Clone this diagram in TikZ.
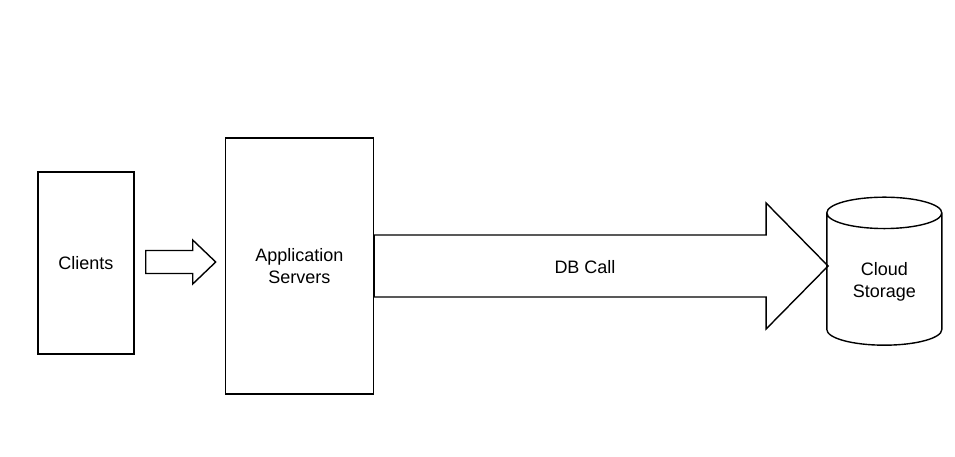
\documentclass[tikz,border=0pt]{standalone}
\usepackage{fontspec}
\setmainfont{Liberation Sans}
\usetikzlibrary{positioning,shapes.geometric}

\tikzset{
  box/.style={draw, line width=1.4pt, align=center, font=\fontsize{18}{22}\selectfont},
  blockarrow/.style={draw, line width=1.4pt, line join=miter},
  store/.style={draw, line width=1.4pt, cylinder, shape border rotate=90, aspect=0.45,
    align=center, font=\fontsize{18}{22}\selectfont},
  lbl/.style={font=\fontsize{18}{22}\selectfont}
}

\begin{document}
\begin{tikzpicture}[x=1pt, y=-1pt]
  \useasboundingbox (0,0) rectangle (955,456);

  \node[box, minimum width=96, minimum height=182] (clients) at (86,263) {Clients};
  \node[box, minimum width=148, minimum height=256, right=90pt of clients, yshift=-3pt] (servers) {Application\\Servers};
  \node[store, minimum width=115, minimum height=148, right=452pt of servers, yshift=-16pt] (storage) {Cloud\\Storage};

  % clients to servers
  \draw[blockarrow] (clients.east) ++(11,-12.5) -- ++(47,0) -- ++(0,-10.5) -- ++(23,22)
    -- ++(-23,22) -- ++(0,-10.5) -- ++(-47,0) -- cycle;

  % db call
  \draw[blockarrow] (servers.east) ++(0,-31) -- ++(392,0) -- ++(0,-32) -- ([xshift=2pt]storage.west |- servers.east)
    -- ++(-62,63) -- ++(0,-32) -- ++(-392,0) -- cycle;
  \node[lbl] (call) at (585,267) {DB Call};
\end{tikzpicture}
\end{document}
